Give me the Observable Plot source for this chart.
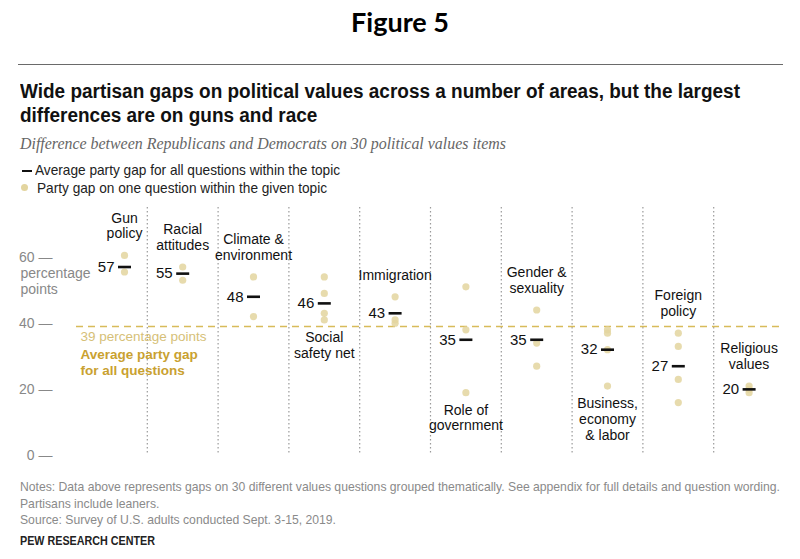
<!DOCTYPE html>
<html><head><meta charset="utf-8">
<script src="https://cdn.jsdelivr.net/npm/d3@7"></script>
<script src="https://cdn.jsdelivr.net/npm/@observablehq/plot@0.6"></script>
<style>
body{margin:0;background:#fff;width:800px;height:559px;overflow:hidden;font-family:"Liberation Sans",Arial,sans-serif;position:relative;}
.ab{position:absolute;white-space:nowrap;transform-origin:0 0;}
#fig{top:5px;left:0;width:800px;text-align:center;font:bold 27px Lato;color:#000;}
#rule{top:64px;left:18px;width:765px;height:0;border-top:1.5px solid #6a6a6a;}
.t{font:bold 20px "Liberation Sans";color:#111;left:20px;}
#sub{top:135px;left:20px;font:italic 16px "Liberation Serif";color:#666;}
.lg{font:14.5px "Liberation Sans";color:#222;left:35px;}
#chart{position:absolute;top:200px;left:0;}
.nt{font:13px "Liberation Sans";color:#8a8a8a;left:20px;}
#pew{top:533px;left:20px;font:bold 13px "Liberation Sans";color:#222;}
</style></head>
<body>
<div id="fig" class="ab">Figure 5</div>
<div id="rule" class="ab"></div>
<div id="t1" class="ab t" style="top:80px">Wide partisan gaps on political values across a number of areas, but the largest</div>
<div id="t2" class="ab t" style="top:104px">differences are on guns and race</div>
<div id="sub" class="ab">Difference between Republicans and Democrats on 30 political values items</div>
<div class="ab" style="top:170px;left:22px;width:10px;height:0;border-top:2.5px solid #111"></div>
<div class="ab" style="top:184px;left:21px;width:7px;height:7px;border-radius:50%;background:#e3d59f"></div>
<div id="l1" class="ab lg" style="top:162px">Average party gap for all questions within the topic</div>
<div id="l2" class="ab lg" style="top:180px;left:37px">Party gap on one question within the given topic</div>
<div id="chart"></div>
<div id="n1" class="ab nt" style="top:479px">Notes: Data above represents gaps on 30 different values questions grouped thematically. See appendix for full details and question wording.</div>
<div id="n2" class="ab nt" style="top:496px">Partisans include leaners.</div>
<div id="n3" class="ab nt" style="top:512px">Source: Survey of U.S. adults conducted Sept. 3-15, 2019.</div>
<div id="pew" class="ab">PEW RESEARCH CENTER</div>
<script>
const topics = ["Gun\npolicy","Racial\nattitudes","Climate &\nenvironment","Social\nsafety net","Immigration","Role of\ngovernment","Gender &\nsexuality","Business,\neconomy\n& labor","Foreign\npolicy","Religious\nvalues"];
const averages = [57,55,48,46,43,35,35,32,27,20];
const labelSides = ["above","above","above","below","above","below","above","below","above","above"];
const questionGaps = [[60.5,55.5],[57,53],[54,42],[54,49,43,41],[48,41,40],[51,38,19],[44,34,27],[38,37,32,21],[37,33,23,16],[21,20,19]];
const overallAverage = 39;
const yTicks = [0,20,40,60];

const dots = questionGaps.flatMap((g,i)=>g.map(v=>({i,v})));
const rows = topics.map((t,i)=>({i,t,avg:averages[i],side:labelSides[i],max:d3.max(questionGaps[i]),min:d3.min(questionGaps[i])}));
const dash = {draw(ctx,size){const r=Math.sqrt(size/Math.PI);ctx.moveTo(-r,0);ctx.lineTo(r,0);}};

const chart = Plot.plot({
  width:800, height:265, marginTop:7, marginBottom:10, marginLeft:76, marginRight:16,
  x:{type:"linear", domain:[-0.5, 0, 0.5, topics.length-0.5], range:[76, 124, 146.8, 784], axis:null},
  y:{domain:[0,75], axis:null},
  style:{fontFamily:"Liberation Sans, Arial, sans-serif", fontSize:"14px", background:"white"},
  marks:[
    Plot.ruleX(d3.range(1, topics.length), {x:d=>d-0.5, stroke:"#9a9a9a", strokeDasharray:"1.5,2.5", strokeWidth:1.2}),
    Plot.ruleY([overallAverage], {y:d=>d, stroke:"#d8bb5a", strokeWidth:1.6, strokeDasharray:"7,5"}),
    Plot.axisY({ticks:yTicks, tickSize:0, tickPadding:24, tickFormat:d=>`${d} —`, label:null, color:"#888", fontSize:14}),
    Plot.text([60], {y:d=>d, frameAnchor:"left", dx:-56, dy:9, lineAnchor:"top", textAnchor:"start", lineHeight:1.15, text:()=>"percentage\npoints", fill:"#888"}),
    Plot.text([overallAverage], {y:d=>d, frameAnchor:"left", dx:4, dy:5, lineAnchor:"top", textAnchor:"start", text:d=>`${d} percentage points`, fill:"#d6bf78", fontSize:13.5}),
    Plot.text([overallAverage], {y:d=>d, frameAnchor:"left", dx:4, dy:21, lineAnchor:"top", textAnchor:"start", lineHeight:1.2, text:()=>"Average party gap\nfor all questions", fill:"#c9a130", fontWeight:"bold", fontSize:13.5}),
    Plot.dot(dots, {x:"i", y:"v", r:3.6, fill:"#e3d59f", fillOpacity:0.85}),
    Plot.dot(rows, {x:"i", y:"avg", symbol:dash, r:6.5, stroke:"#111", fill:"none", strokeWidth:2.6}),
    Plot.text(rows, {x:"i", y:"avg", text:d=>String(d.avg), textAnchor:"end", dx:-10, fill:"#111", fontSize:15}),
    Plot.text(rows.filter(d=>d.side==="above"), {x:"i", y:"max", text:"t", lineAnchor:"bottom", dy:-17, lineHeight:1.12, fill:"#111"}),
    Plot.text(rows.filter(d=>d.side==="below"), {x:"i", y:"min", text:"t", lineAnchor:"top", dy:11, lineHeight:1.12, fill:"#111"})
  ]
});
document.getElementById("chart").appendChild(chart);

function scaleOf(id, w){ return w / document.getElementById(id).getBoundingClientRect().width; }
function apply(ids, s){ ids.forEach(id=>document.getElementById(id).style.transform=`scaleX(${s})`); }
apply(["t1","t2"], scaleOf("t1", 720));
apply(["sub"], scaleOf("sub", 486));
apply(["l1","l2"], scaleOf("l1", 305));
apply(["n1","n2","n3"], scaleOf("n1", 760));
apply(["pew"], scaleOf("pew", 135));
</script>
</body></html>
